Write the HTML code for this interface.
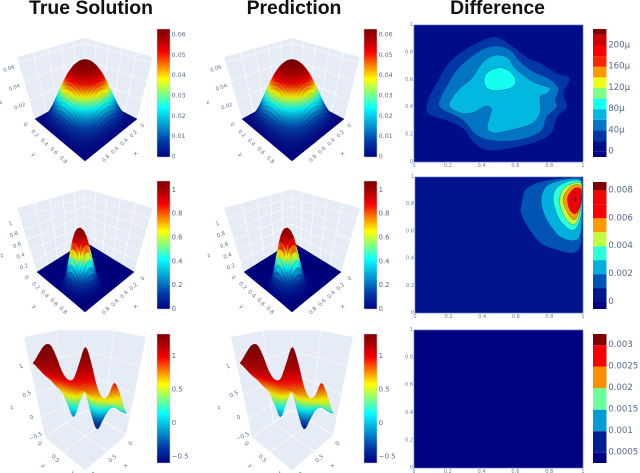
<!DOCTYPE html>
<html lang="en">
<head>
<meta charset="utf-8">
<title>True Solution, Prediction and Difference</title>
<style>
html,body{margin:0;padding:0;background:#fff;width:640px;height:473px;overflow:hidden}
#figure{display:block;position:absolute;left:0;top:0}
#plots{filter:blur(.35px)}
.title{font-family:"Liberation Sans",sans-serif;font-weight:700;font-size:19.4px;fill:#111;text-anchor:middle}
</style>
</head>
<body>
<svg id="figure" xmlns="http://www.w3.org/2000/svg" width="640" height="473" viewBox="0 0 640 473">
  <defs>
    <linearGradient id="jet-gradient" x1="0" y1="1" x2="0" y2="0">
      <stop offset="0" stop-color="rgb(0,0,131)"/>
      <stop offset=".125" stop-color="rgb(0,60,170)"/>
      <stop offset=".385" stop-color="rgb(5,255,255)"/>
      <stop offset=".61" stop-color="rgb(255,255,0)"/>
      <stop offset=".82" stop-color="rgb(250,0,0)"/>
      <stop offset=".92" stop-color="rgb(170,0,0)"/>
      <stop offset="1" stop-color="rgb(128,0,0)"/>
    </linearGradient>
    <clipPath id="clip-row3"><rect x="0" y="330" width="200" height="143"/></clipPath>
    <clipPath id="clip-diff1"><rect x="414" y="25" width="169" height="137"/></clipPath>
    <clipPath id="clip-diff2"><rect x="415" y="177" width="168" height="136"/></clipPath>
  </defs>
  <text class="title" x="91" y="14">True Solution</text>
  <text class="title" x="294" y="14">Prediction</text>
  <text class="title" x="497.5" y="14">Difference</text>
  <g id="plots"></g>
</svg>
<script>
// ---------- Surface data ----------
const surface1Peak = 0.0625;
const surface1ProfileX = [0,.101,.261,.44,.616,.772,.895,.973,1,.973,.895,.772,.616,.44,.261,.101,0];
const surface1ProfileY = [0,.101,.261,.44,.616,.772,.895,.973,1,.973,.895,.772,.616,.44,.261,.101,0];
const surface1Ticks = [0,.01,.02,.03,.04,.05,.06];
const surface1TickLabels = ['0','0.01','0.02','0.03','0.04','0.05','0.06'];
const surface1ZTicks = [.02,.04,.06];
const surface1ZLabels = ['0.02','0.04','0.06'];

const surface2Peak = 1.05;
const surface2ProfileX = [0,0,0,0,0,.0005,.0045,.027,.111,.325,.664,.953,.96,.677,.336,.117,.028];
const surface2ProfileY = [0,0,0,0,.0007,.0057,.032,.129,.36,.707,.972,.938,.635,.301,.1,.024,.004];
const surface2Ticks = [0,.2,.4,.6,.8,1];
const surface2TickLabels = ['0','0.2','0.4','0.6','0.8','1'];
const surface2ZTicks = [.2,.4,.6,.8,1];
const surface2ZLabels = ['0.2','0.4','0.6','0.8','1'];

const surface3Back = [1.05,1.2,1.33,1.33,1.15,.9,.76,.78,1.05,1.3,1.05,.63,.41,.47,.7,.47,.09];
const surface3Ridge = [1.05,1,.95,.9,.85,.8,.74,.67,.61,.55,.49,.43,.37,.31,.25,.16,.09];
const surface3Front = [.93,.83,.72,.63,.51,.39,.12,-.17,.18,.37,-.08,-.5,-.25,0,.06,-.02,-.08];
const surface3Ticks = [-.5,0,.5,1];
const surface3TickLabels = ['\u22120.5','0','0.5','1'];

const axisTicks02 = [0,.2,.4,.6,.8];
const axisTickLabels02 = ['0','0.2','0.4','0.6','0.8'];
const axisTicks05 = [0,.5,1];
const axisTickLabels05 = ['0','0.5','1'];

// ---------- Difference contour data: [x, y] in plot units ----------
const diff1Levels = [-10,0,20,40,60,80,100,120,140,160,180,200,220,231];
const diff1TickValues = [0,40,80,120,160,200];
const diff1TickLabels = ['0','40\u03bc','80\u03bc','120\u03bc','160\u03bc','200\u03bc'];
const diff1Contour20 = [[.212,.732],[.331,.841],[.45,.907],[.509,.902],[.598,.829],[.677,.756],[.747,.72],[.846,.646],[.921,.61],[.885,.5],[.905,.402],[.846,.329],[.816,.22],[.747,.159],[.608,.11],[.45,.085],[.36,.134],[.291,.244],[.192,.305],[.083,.354],[.083,.451],[.133,.573]];
const diff1Contour40 = [[.261,.683],[.38,.805],[.479,.846],[.568,.817],[.628,.732],[.707,.659],[.796,.61],[.855,.537],[.836,.451],[.846,.402],[.786,.329],[.747,.22],[.608,.159],[.45,.159],[.36,.207],[.291,.305],[.162,.39],[.152,.451],[.202,.573]];
const diff1Contour60 = [[.212,.439],[.271,.537],[.341,.61],[.41,.732],[.489,.78],[.558,.756],[.598,.683],[.687,.598],[.756,.561],[.806,.537],[.786,.5],[.747,.476],[.747,.366],[.697,.28],[.568,.232],[.479,.212],[.434,.244],[.45,.341],[.459,.39],[.42,.407],[.36,.366],[.291,.354],[.222,.39]];
const diff1Contour80 = [[.414,.598],[.44,.659],[.509,.688],[.568,.659],[.602,.598],[.578,.544],[.489,.52],[.434,.537]];

const diff2Levels = [-.0005,0,.001,.002,.003,.004,.005,.006,.007,.008,.0086];
const diff2TickValues = [0,.002,.004,.006,.008];
const diff2TickLabels = ['0','0.002','0.004','0.006','0.008'];
const diff2Contour1 = [[.634,.797],[.653,.895],[.703,.944],[.802,.98],[.921,.993],[.99,.993],[1,.846],[.994,.6],[.98,.478],[.931,.441],[.842,.466],[.762,.502],[.703,.576],[.653,.674],[.628,.748]];
const diff2Contour2 = [[.752,.846],[.782,.931],[.861,.973],[.96,.988],[.994,.944],[.994,.723],[.98,.564],[.931,.532],[.861,.564],[.802,.65],[.762,.748]];
const diff2Contour3 = [[.822,.846],[.842,.919],[.911,.968],[.98,.973],[.994,.919],[.99,.723],[.96,.625],[.921,.613],[.861,.686],[.832,.772]];
const diff2Contour4 = [[.861,.833],[.881,.907],[.931,.949],[.99,.949],[.992,.821],[.97,.686],[.941,.65],[.901,.686],[.871,.76]];
const diff2Contour5 = [[.881,.833],[.901,.895],[.941,.939],[.99,.931],[.99,.821],[.97,.723],[.95,.686],[.921,.711],[.895,.772]];
const diff2Contour6 = [[.907,.833],[.921,.882],[.954,.919],[.99,.907],[.99,.821],[.97,.748],[.95,.73],[.921,.76]];
const diff2Contour7 = [[.927,.833],[.941,.875],[.96,.895],[.982,.87],[.982,.809],[.96,.76],[.941,.772]];
const diff2Contour8 = [[.954,.853],[.96,.836],[.954,.816],[.949,.836]];

const diff3Levels = [.00026,.0005,.001,.0015,.002,.0025,.003,.00326];
const diff3TickValues = [.0005,.001,.0015,.002,.0025,.003];
const diff3TickLabels = ['0.0005','0.001','0.0015','0.002','0.0025','0.003'];

const plotTicks = [0,.2,.4,.6,.8,1];
const plotTickLabels = ['0','0.2','0.4','0.6','0.8','1'];

// ---------- Helpers ----------
const NS = 'http://www.w3.org/2000/svg';
const root = document.getElementById('plots');
const AXIS_COLOR = '#5f7190';

function make(tag, parent, attrs) {
  const el = document.createElementNS(NS, tag);
  for (const k in attrs) el.setAttribute(k, attrs[k]);
  parent.appendChild(el);
  return el;
}
const JET = [[0,0,0,131],[.125,0,60,170],[.385,5,255,255],[.61,255,255,0],[.82,250,0,0],[.92,170,0,0],[1,128,0,0]];
function jetRGB(t) {
  t = Math.max(0, Math.min(1, t));
  for (let i = 1; i < JET.length; i++) {
    if (t <= JET[i][0]) {
      const a = JET[i-1], b = JET[i], f = (t - a[0]) / (b[0] - a[0]);
      return [a[1]+(b[1]-a[1])*f, a[2]+(b[2]-a[2])*f, a[3]+(b[3]-a[3])*f];
    }
  }
  return [128,0,0];
}
function jet(t) {
  const c = jetRGB(t);
  return 'rgb(' + Math.round(c[0]) + ',' + Math.round(c[1]) + ',' + Math.round(c[2]) + ')';
}
// Surfaces are lit in the reference: contrast-stretched and slightly darker than the bar
function shaded(t) {
  t = Math.max(0, Math.min(1, t));
  const c = jetRGB(t + .08*Math.sin(2*Math.PI*(t-.5)));
  return 'rgb(' + Math.round(c[0]*.93) + ',' + Math.round(c[1]*.93) + ',' + Math.round(c[2]*.93) + ')';
}
function sample(arr, t) {
  const n = arr.length - 1, p = Math.max(0, Math.min(n, t * n));
  const i = Math.min(n - 1, Math.floor(p)), f = p - i;
  const a = arr[Math.max(0, i-1)], b = arr[i], c = arr[i+1], d = arr[Math.min(n, i+2)];
  return b + .5*f*(c-a + f*(2*a-5*b+4*c-d + f*(3*(b-c)+d-a)));
}
function homography(q) {
  const [p0,p1,p2,p3] = q;
  const dx1=p1[0]-p2[0], dx2=p3[0]-p2[0], sx=p0[0]-p1[0]+p2[0]-p3[0];
  const dy1=p1[1]-p2[1], dy2=p3[1]-p2[1], sy=p0[1]-p1[1]+p2[1]-p3[1];
  const det=dx1*dy2-dx2*dy1;
  const g=(sx*dy2-dx2*sy)/det, h=(dx1*sy-sx*dy1)/det;
  const a=p1[0]-p0[0]+g*p1[0], b=p3[0]-p0[0]+h*p3[0], c=p0[0];
  const d=p1[1]-p0[1]+g*p1[1], e=p3[1]-p0[1]+h*p3[1], f=p0[1];
  return (u,v) => { const w=g*u+h*v+1; return [(a*u+b*v+c)/w,(d*u+e*v+f)/w]; };
}
function scene(floor, top) {
  const f = homography(floor), t = homography(top);
  return (x,y,w) => { const a=f(x,y), b=t(x,y); return [a[0]+(b[0]-a[0])*w, a[1]+(b[1]-a[1])*w]; };
}
function pts(list) { return list.map(p => p[0].toFixed(2)+','+p[1].toFixed(2)).join(' '); }

function axisText(parent, x, y, str, size, rot) {
  const el = make('text', parent, {x:x, y:y, fill:AXIS_COLOR, 'font-size':size, 'font-family':'"DejaVu Sans",sans-serif', 'text-anchor':'middle', 'dominant-baseline':'central', transform:'rotate('+rot+' '+x+' '+y+')'});
  
  
  el.textContent = str;
  return el;
}
function barText(parent, x, y, str, size) {
  const el = make('text', parent, {x:x, y:y, fill:'#56688a', 'font-size':size, 'font-family':'"DejaVu Sans",sans-serif', 'dominant-baseline':'central'});
  
  
  el.textContent = str;
  return el;
}
function gridLine(parent, a, b) {
  const el = make('line', parent, {x1:a[0], y1:a[1], x2:b[0], y2:b[1], stroke:'#fff', 'stroke-width':.55});
  
  
}
function drawWalls(parent, P, xs, ws) {
  const wall1 = make('polygon', parent, {points:pts([P(1,0,0),P(0,0,0),P(0,0,1),P(1,0,1)]), fill:'#e5ecf6', stroke:'#f3f6fb', 'stroke-width':.5});
  
  
  const wall2 = make('polygon', parent, {points:pts([P(0,1,0),P(0,0,0),P(0,0,1),P(0,1,1)]), fill:'#e5ecf6', stroke:'#f3f6fb', 'stroke-width':.5});
  
  
  const floorEl = make('polygon', parent, {points:pts([P(0,0,0),P(1,0,0),P(1,1,0),P(0,1,0)]), fill:'#e5ecf6', stroke:'#eef2f9', 'stroke-width':1.2});
  
  
  xs.forEach(t => {
    gridLine(parent, P(t,0,0), P(t,0,1));
    gridLine(parent, P(0,t,0), P(0,t,1));
    gridLine(parent, P(t,0,0), P(t,1,0));
    gridLine(parent, P(0,t,0), P(1,t,0));
  });
  ws.forEach(w => {
    gridLine(parent, P(1,0,w), P(0,0,w));
    gridLine(parent, P(0,0,w), P(0,1,w));
  });
}
function colorbar(parent, x, y0, y1, lo, hi, ticks, labels, size) {
  const bar = make('rect', parent, {x:x, y:y0, width:13, height:y1-y0, fill:'url(#jet-gradient)', stroke:'#c3cad6', 'stroke-width':.5});
  
  
  ticks.forEach((v,i) => {
    barText(parent, x+14.6, y1-(v-lo)/(hi-lo)*(y1-y0), labels[i], size);
  });
}
// Separable surface over the unit square
function separableSurface(parent, P, peak, zTop, px, py, cMax, sub) {
  const n = (px.length-1)*sub, m = (py.length-1)*sub;
  const zAt = (i,j) => Math.max(0, peak*sample(px,i/n)*sample(py,j/m));
  for (let k = 0; k <= n+m-2; k++) {
    for (let i = 0; i < n; i++) {
      const j = k-i;
      if (j < 0 || j >= m) continue;
      const z = [zAt(i,j),zAt(i+1,j),zAt(i+1,j+1),zAt(i,j+1)];
      const c = shaded((z[0]+z[1]+z[2]+z[3])/4/cMax);
      const cell = make('polygon', parent, {points:pts([P(i/n,j/m,z[0]/zTop),P((i+1)/n,j/m,z[1]/zTop),P((i+1)/n,(j+1)/m,z[2]/zTop),P(i/n,(j+1)/m,z[3]/zTop)]), fill:c, stroke:c, 'stroke-width':.35});
      
      
    }
  }
}

// ---------- Row 1 and 2 3D panels ----------
function panelOne(dx) {
  const g = make('g', root, {transform:'translate('+dx+',0)'});
  
  
  const zTop = .066;
  const P = scene([[85,92],[35,119],[85,161],[137,119]], [[85,38],[17,57],[85,90],[153,57]]);
  drawWalls(g, P, [.2,.4,.6,.8], surface1ZTicks.map(z => z/zTop));
  separableSurface(g, P, surface1Peak, zTop, surface1ProfileX, surface1ProfileY, .0627, 3);
  surface1ZTicks.forEach((z,i) => { const p=P(1,0,z/zTop); axisText(g,p[0]-9.5,p[1]+6.5,surface1ZLabels[i],5.2,-20); });
  axisTicks02.forEach((v,i) => { axisText(g,25+47.5*v,125+44*v,axisTickLabels02[i],5.2,45); });
  axisTicks02.forEach((v,i) => { axisText(g,143-46*v,126+41*v,axisTickLabels02[i],5.2,-45); });
  axisText(g,1,103,'z',5.5,-20);
  axisText(g,33,155,'y',5.5,45);
  axisText(g,136,154,'x',5.5,-45);
  colorbar(g,157,29,157,0,.063,surface1Ticks,surface1TickLabels,6.3);
}
function panelTwo(dx) {
  const g = make('g', root, {transform:'translate('+dx+',0)'});
  
  
  const zTop = 1.19;
  const P = scene([[85,242],[37,272],[85,312],[134,272]], [[85,189],[17,208],[85,252],[153,208]]);
  drawWalls(g, P, [.2,.4,.6,.8], surface2ZTicks.map(z => z/zTop));
  const fl = make('polygon', g, {points:pts([P(0,0,0),P(1,0,0),P(1,1,0),P(0,1,0)]), fill:'rgb(0,0,131)'});
  
  
  separableSurface(g, P, surface2Peak, zTop, surface2ProfileX, surface2ProfileY, 1.075, 3);
  surface2ZTicks.forEach((z,i) => { const p=P(1,0,z/zTop); axisText(g,p[0]-9.5,p[1]+6,surface2ZLabels[i],5.4,-20); });
  axisTicks02.forEach((v,i) => { axisText(g,26+46*v,278+41*v,axisTickLabels02[i],5.4,45); });
  axisTicks02.forEach((v,i) => { axisText(g,143-46*v,279+40*v,axisTickLabels02[i],5.4,-45); });
  axisText(g,2,256,'z',5.5,-20);
  axisText(g,34,307,'y',5.5,45);
  axisText(g,136,307,'x',5.5,-45);
  colorbar(g,157,181,309,0,1.075,surface2Ticks,surface2TickLabels,6.9);
}
// ---------- Row 3 3D panel ----------
function heightOf(z) { const t = z+.5; return 33.67*t + 8.67*t*t; }
function panelThree(dx) {
  const g = make('g', root, {transform:'translate('+dx+',0)'});
  
  
  const c = make('g', g, {'clip-path':'url(#clip-row3)'});
  
  
  const P = scene([[85,410],[45,437],[85,470],[126,435]], [[85,325],[24,337],[85,352],[146,337]]);
  drawWalls(c, P, [.5], surface3Ticks.map(z => heightOf(z)/100));
  const xAt = s => 33 + 93*s;
  const patch = (rowA, floorA, rowB, floorB) => {
    const n = 64, m = 12;
    for (let i = 0; i < n; i++) {
      for (let j = 0; j < m; j++) {
        const corner = [[i,j],[i+1,j],[i+1,j+1],[i,j+1]].map(q => {
          const s=q[0]/n, v=q[1]/m, a=sample(rowA,s), b=sample(rowB,s);
          const ya=floorA-heightOf(a), yb=floorB-heightOf(b);
          return [xAt(s), ya+(yb-ya)*v, a+(b-a)*v];
        });
        const z=(corner[0][2]+corner[1][2]+corner[2][2]+corner[3][2])/4;
        const col = shaded(Math.pow(Math.max(0,(z+.6)/1.93),.8));
        const cell = make('polygon', c, {points:pts(corner), fill:col, stroke:col, 'stroke-width':.35});
        
        
      }
    }
  };
  patch(surface3Back, 436, surface3Ridge, 436);
  patch(surface3Ridge, 436, surface3Front, 429);
  surface3Ticks.forEach((z,i) => { const h=heightOf(z); axisText(g,45-21*h/100-9,437-h,surface3TickLabels[i],5.6,-25); });
  axisTicks05.forEach((v,i) => { axisText(g,39+32*v,444+30*v,axisTickLabels05[i],5.6,45); });
  axisTicks05.forEach((v,i) => { axisText(g,131-36*v,444+30*v,axisTickLabels05[i],5.6,-45); });
  axisText(g,12,408,'z',5.5,-20);
  axisText(g,43,466,'y',5.5,45);
  axisText(g,126,466,'x',5.5,-45);
  colorbar(g,157,334,463,-.6,1.33,surface3Ticks,surface3TickLabels,7);
}
panelOne(0);  panelOne(207);
panelTwo(0);  panelTwo(207);
panelThree(0); panelThree(207);

// ---------- Difference panels ----------
function bandColor(levels, i) {
  const a = levels[0], b = levels[levels.length-1];
  if (i === 0) return jet(0);
  if (i === levels.length-2) return jet(1);
  const lo = levels[i], hi = levels[i+1];
  const tLo = (lo-a)/(b-a), tHi = (hi-a)/(b-a);
  if (tLo >= .82) return jet(tLo);
  const f = Math.min(1, 2.2*tLo*tLo);
  return jet(Math.min(.82, tLo+(tHi-tLo)*f) - (tLo < .3 ? .015 : 0));
}
function smoothClosed(list, X, Y) {
  const n = list.length, p = list.map(q => [X(q[0]), Y(q[1])]);
  let d = 'M'+p[0][0].toFixed(2)+' '+p[0][1].toFixed(2);
  for (let i = 0; i < n; i++) {
    const a=p[(i-1+n)%n], b=p[i], c=p[(i+1)%n], e=p[(i+2)%n];
    d += 'C'+(b[0]+(c[0]-a[0])/6).toFixed(2)+' '+(b[1]+(c[1]-a[1])/6).toFixed(2)+' '+(c[0]-(e[0]-b[0])/6).toFixed(2)+' '+(c[1]-(e[1]-b[1])/6).toFixed(2)+' '+c[0].toFixed(2)+' '+c[1].toFixed(2);
  }
  return d+'Z';
}
function diffPanel(name, rect, clipId, levels, contours, barY0, barY1, tickVals, tickLabels, startBand) {
  const g = make('g', root, {});
  
  
  const X = v => rect.x + v*rect.w;
  const Y = v => rect.y + rect.h - v*rect.h;
  const bg = make('rect', g, {x:rect.x, y:rect.y, width:rect.w, height:rect.h, fill:bandColor(levels,startBand)});
  
  
  const cg = make('g', g, clipId ? {'clip-path':'url(#'+clipId+')'} : {});
  
  
  contours.forEach((list,i) => {
    const band = make('path', cg, {d:smoothClosed(list,X,Y), fill:bandColor(levels,startBand+1+i), stroke:'rgba(0,40,90,.55)', 'stroke-width':.5});
    
    
  });
  const frame = make('rect', g, {x:rect.x, y:rect.y, width:rect.w, height:rect.h, fill:'none', stroke:'#5c78b4', 'stroke-width':.7});
  
  
  plotTicks.forEach((v,i) => {
    const t = make('text', g, {x:X(v), y:rect.y+rect.h+4.2, fill:'#6d7c96', 'font-size':5, 'font-family':'"DejaVu Sans",sans-serif', 'text-anchor':'middle', 'dominant-baseline':'central'});
    
    
    t.textContent = plotTickLabels[i];
    const u = make('text', g, {x:rect.x-1, y:Y(v), fill:'#6d7c96', 'font-size':5, 'font-family':'"DejaVu Sans",sans-serif', 'text-anchor':'end', 'dominant-baseline':'central'});
    
    
    u.textContent = plotTickLabels[i];
  });
  // discrete colorbar
  const lo = levels[0], hi = levels[levels.length-1];
  const BY = v => barY1 - (v-lo)/(hi-lo)*(barY1-barY0);
  for (let i = 0; i < levels.length-1; i++) {
    const seg = make('rect', g, {x:593, y:BY(levels[i+1]), width:13.5, height:BY(levels[i])-BY(levels[i+1]), fill:bandColor(levels,i)});
    
    
  }
  tickVals.forEach((v,i) => { barText(g, 608.2, BY(v), tickLabels[i], 8.6); });
}
diffPanel('difference-plot-row-1', {x:414,y:25,w:169,h:137}, 'clip-diff1', diff1Levels,
  [diff1Contour20,diff1Contour40,diff1Contour60,diff1Contour80], 29, 157, diff1TickValues, diff1TickLabels, 1);
diffPanel('difference-plot-row-2', {x:415,y:177,w:168,h:136}, 'clip-diff2', diff2Levels,
  [diff2Contour1,diff2Contour2,diff2Contour3,diff2Contour4,diff2Contour5,diff2Contour6,diff2Contour7,diff2Contour8], 182, 309, diff2TickValues, diff2TickLabels, 1);
diffPanel('difference-plot-row-3', {x:414,y:330,w:169,h:138}, null, diff3Levels,
  [], 334, 463, diff3TickValues, diff3TickLabels, 0);
</script>
</body>
</html>
